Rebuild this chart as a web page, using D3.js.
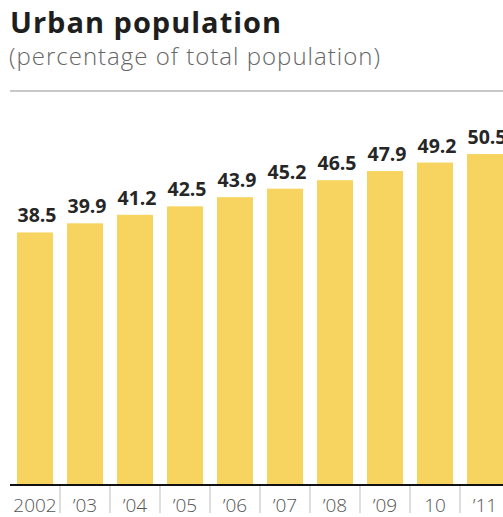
<!DOCTYPE html>
<html>
<head>
<meta charset="utf-8">
<script src="https://cdn.jsdelivr.net/npm/d3@7"></script>
<style>
  body { margin: 0; background: #fff; }
  svg { display: block; font-family: "Open Sans", "Noto Sans", sans-serif; }
</style>
</head>
<body>
<div id="chart"></div>
<script>
// Chart data
const years = ['2002', '’03', '’04', '’05', '’06', '’07', '’08', '’09', '10', '’11'];
const urban_share = [38.5, 39.9, 41.2, 42.5, 43.9, 45.2, 46.5, 47.9, 49.2, 50.5];

const C = {
  width: 503,
  height: 517,
  bar_color: '#f6d45f',
  rule_y: 91,
  baseline: 484,
  left: 10,
};

const data = years.map((year, i) => ({year, value: urban_share[i]}));

const svg = d3.select('#chart').append('svg')
  .attr('width', C.width)
  .attr('height', C.height);

// Title block
svg.append('text')
  .attr('x', 10).attr('y', 33)
  .attr('font-size', 29).attr('font-weight', 700)
  .attr('letter-spacing', 1)
  .attr('fill', '#1e1e1e')
  .text('Urban population');

svg.append('text')
  .attr('x', 9).attr('y', 65)
  .attr('font-size', 24).attr('font-weight', 300)
  .attr('letter-spacing', 1)
  .attr('fill', '#666')
  .text('(percentage of total population)');

svg.append('line')
  .attr('x1', C.left).attr('x2', C.width)
  .attr('y1', C.rule_y).attr('y2', C.rule_y)
  .attr('stroke', '#c8c8c8').attr('stroke-width', 2);

// Scales
const X = d3.scaleBand()
  .domain(years)
  .range([C.left, C.left + 500])
  .paddingInner(0.28)
  .paddingOuter(0.14);

const Y = d3.scaleLinear()
  .domain([0, 60])
  .range([C.baseline, C.rule_y + 1]);

// Bars
svg.selectAll('rect.bar')
  .data(data)
  .join('rect')
  .attr('class', 'bar')
  .attr('x', d => X(d.year))
  .attr('y', d => Y(d.value))
  .attr('width', X.bandwidth())
  .attr('height', d => Y(0) - Y(d.value))
  .attr('fill', C.bar_color);

// Value labels (the last one runs past the right edge, as in the original)
svg.selectAll('text.value')
  .data(data)
  .join('text')
  .attr('class', 'value')
  .attr('x', d => X(d.year) + X.bandwidth() / 2 + 2)
  .attr('y', d => Y(d.value) - 10)
  .attr('text-anchor', 'middle')
  .attr('font-size', 19.5).attr('font-weight', 700)
  .attr('fill', '#262626')
  .text(d => d.value.toFixed(1));

// Axis line
svg.append('line')
  .attr('x1', C.left).attr('x2', C.width)
  .attr('y1', C.baseline + 1).attr('y2', C.baseline + 1)
  .attr('stroke', '#111').attr('stroke-width', 2);

// Separators between categories
const gap = X.step() - X.bandwidth();
svg.selectAll('line.sep')
  .data(years.slice(1))
  .join('line')
  .attr('class', 'sep')
  .attr('x1', d => X(d) - gap / 2).attr('x2', d => X(d) - gap / 2)
  .attr('y1', C.baseline + 2).attr('y2', C.baseline + 29)
  .attr('stroke', '#bdbdbd').attr('stroke-width', 1);

// Category labels
svg.selectAll('text.year')
  .data(years)
  .join('text')
  .attr('class', 'year')
  .attr('x', d => X(d) + X.bandwidth() / 2)
  .attr('y', C.baseline + 28)
  .attr('text-anchor', 'middle')
  .attr('font-size', 19).attr('font-weight', 300)
  .attr('fill', '#555')
  .text(d => d);
</script>
</body>
</html>
